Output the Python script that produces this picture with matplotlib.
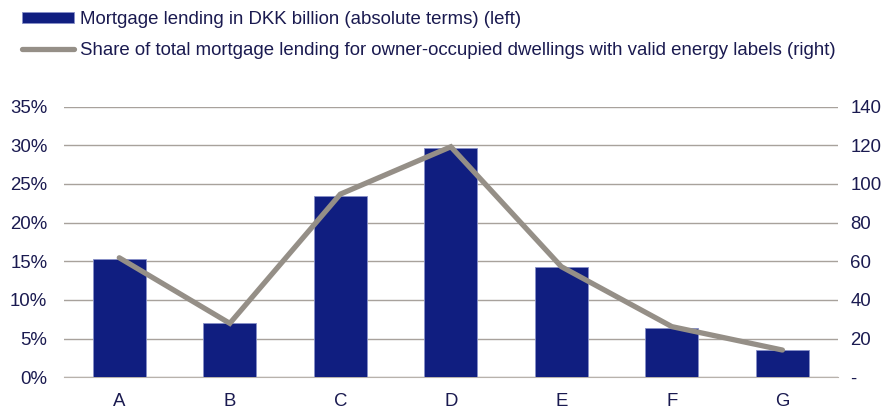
import matplotlib.pyplot as plt
from matplotlib.ticker import FuncFormatter

plt.rcParams['font.family'] = ['Liberation Sans', 'DejaVu Sans']

# ------------- donnees -------------
labels = ['A', 'B', 'C', 'D', 'E', 'F', 'G']
pret_dkk = [15.3, 7.0, 23.4, 29.6, 14.3, 6.4, 3.5]        # barres, axe gauche (%)
part_label = [61.8, 27.9, 94.7, 119.2, 57.2, 26.2, 14.1]  # ligne, axe droit

lab_bar = 'Mortgage lending in DKK billion (absolute terms) (left)'
lab_line = 'Share of total mortgage lending for owner-occupied dwellings with valid energy labels (right)'

navy = '#101e80'
gris = '#958f87'
txt = '#1a1a50'
fs = 13.4

fig = plt.figure(figsize=(8.94, 4.09), dpi=100)
ax = fig.add_axes([0.0716, 0.0775, 0.8654, 0.662])
ax2 = ax.twinx()

x = range(len(labels))
ax.bar(x, pret_dkk, width=0.48, color=navy, edgecolor='#8890c8', linewidth=0.6,
       label=lab_bar, zorder=3)
ax2.plot(x, part_label, color=gris, linewidth=3.8, solid_capstyle='round',
         solid_joinstyle='miter', label=lab_line, zorder=4)

ax.set_xlim(-0.5, 6.5)
ax.set_ylim(0, 35)
ax2.set_ylim(0, 140)
ax.set_yticks(range(0, 36, 5))
ax2.set_yticks(range(0, 141, 20))
ax.yaxis.set_major_formatter(FuncFormatter(lambda v, p: f'{v:.0f}%'))
ax2.yaxis.set_major_formatter(FuncFormatter(lambda v, p: '-' if v == 0 else f'{v:.0f}'))
ax.set_xticks(list(x))
ax.set_xticklabels(labels)

ax.grid(axis='y', color='#a8a29c', linewidth=1.0, zorder=0)
ax.set_axisbelow(True)
for a in (ax, ax2):
    for s in a.spines.values():
        s.set_visible(False)
    a.tick_params(length=0, labelsize=fs, labelcolor=txt)
ax.spines['bottom'].set_visible(True)
ax.spines['bottom'].set_color('#b8b2ac')
ax.tick_params(axis='y', pad=12)
ax2.tick_params(axis='y', pad=9)
ax.tick_params(axis='x', pad=11)

# ------------- legende -------------
h1, l1 = ax.get_legend_handles_labels()
h2, l2 = ax2.get_legend_handles_labels()
leg = fig.legend(h1 + h2, l1 + l2, loc='upper left', bbox_to_anchor=(22 / 894, 0.972),
                 frameon=False, fontsize=fs, handlelength=2.8, handleheight=0.55,
                 handletextpad=0.3, labelspacing=0.72, borderpad=0, borderaxespad=0,
                 labelcolor=txt)

plt.savefig('out.png', dpi=100)
